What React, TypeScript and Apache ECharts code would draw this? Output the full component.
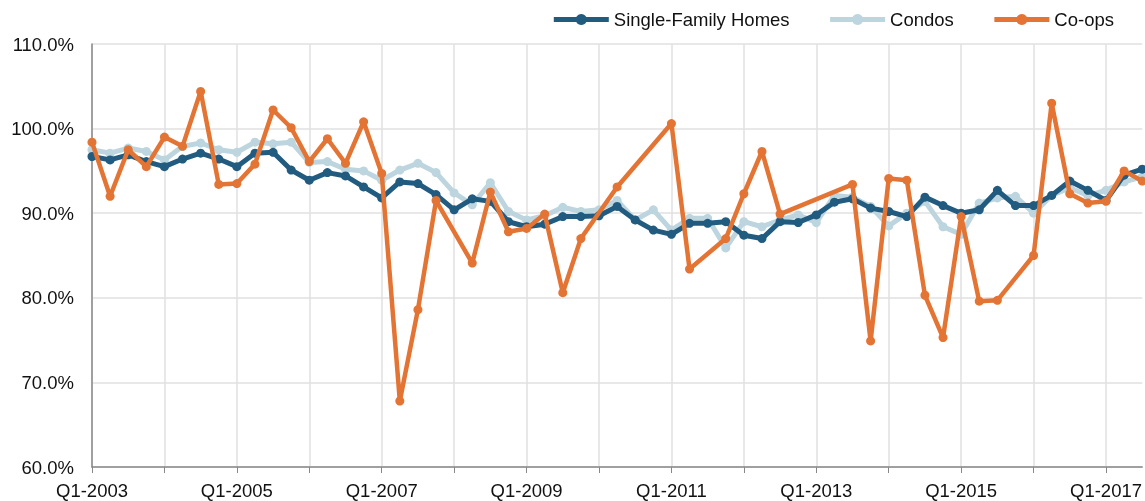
import React, { useEffect, useRef } from "react";
import * as echarts from "echarts";

const years = [2003, 2004, 2005, 2006, 2007, 2008, 2009, 2010, 2011, 2012, 2013, 2014, 2015, 2016, 2017];
const categories: string[] = [];
years.forEach((y) => {
  for (let q = 1; q <= 4; q++) categories.push(`Q${q}-${y}`);
});
const quarters = categories.slice(0, 59); // Q1-2003 .. Q3-2017

const singleFamily = [
  96.7, 96.3, 96.9, 96.1, 95.5, 96.4, 97.1, 96.4, 95.5, 97.1, 97.2, 95.1,
  93.9, 94.8, 94.4, 93.1, 91.8, 93.7, 93.5, 92.2, 90.4, 91.7, 91.4, 89.0,
  88.4, 88.7, 89.6, 89.6, 89.7, 90.8, 89.2, 88.0, 87.5, 88.8, 88.8, 89.0,
  87.4, 87.0, 89.0, 88.9, 89.8, 91.3, 91.7, 90.6, 90.2, 89.6, 91.9, 90.9,
  90.0, 90.4, 92.7, 90.9, 90.9, 92.1, 93.8, 92.7, 91.5, 94.5, 95.2,
];

const condos = [
  97.5, 97.1, 97.7, 97.3, 96.3, 97.9, 98.3, 97.5, 97.2, 98.4, 98.2, 98.4,
  96.0, 96.1, 95.2, 95.0, 93.9, 95.1, 95.9, 94.8, 92.4, 91.0, 93.6, 90.2,
  89.2, 89.7, 90.7, 90.2, 90.4, 91.5, 89.2, 90.4, 88.0, 89.4, 89.4, 85.9,
  89.0, 88.4, 89.2, 89.8, 88.9, 92.1, 91.9, 90.8, 88.5, 90.0, 91.4, 88.4,
  87.5, 91.2, 91.8, 92.0, 90.0, 92.1, 93.0, 92.1, 92.7, 93.7, 94.3,
];

const coops: (number | null)[] = [
  98.4, 92.0, 97.5, 95.5, 99.0, 97.9, 104.4, 93.4, 93.5, 95.8, 102.2, 100.1,
  96.1, 98.8, 95.9, 100.8, 94.7, 67.8, 78.6, 91.5, null, 84.1, 92.5, 87.8,
  88.2, 89.9, 80.6, 87.0, null, 93.1, null, null, 100.6, 83.4, null, 87.0,
  92.3, 97.3, 89.9, null, null, null, 93.4, 74.9, 94.1, 93.9, 80.3, 75.3,
  89.6, 79.6, 79.7, null, 85.0, 103.0, 92.3, 91.2, 91.4, 95.0, 93.8,
];

const yTicks = { min: 60, max: 110, interval: 10 };

const FONT = "'Liberation Sans', Arial, Helvetica, sans-serif";
const FS = 18.5;

export default function App() {
  const ref = useRef<HTMLDivElement>(null);
  useEffect(() => {
    if (!ref.current) return;
    const chart = echarts.init(ref.current, undefined, { renderer: "svg" });
    const mk = (name: string, data: (number | null)[], color: string, width: number, z: number) => ({
      name,
      type: "line",
      data,
      z,
      connectNulls: true,
      symbol: "circle",
      symbolSize: 9,
      showSymbol: true,
      itemStyle: { color },
      lineStyle: { color, width },
      emphasis: { disabled: true },
    });
    chart.setOption({
      animation: false,
      textStyle: { fontFamily: FONT },
      legend: {
        right: 26,
        top: 5,
        itemWidth: 55,
        itemHeight: 14,
        itemGap: 38,
        lineStyle: { width: 5 },
        textStyle: { fontSize: FS, color: "#111", fontFamily: FONT },
        data: ["Single-Family Homes", "Condos", "Co-ops"],
      },
      grid: { left: 92, right: 1, top: 44, bottom: 34, containLabel: false },
      xAxis: {
        type: "category",
        data: quarters,
        boundaryGap: false,
        axisLine: { lineStyle: { color: "#888", width: 1.5 } },
        axisTick: { show: true, interval: 3, length: 6, lineStyle: { color: "#888" } },
        axisLabel: { interval: 7, fontSize: FS, color: "#111", margin: 14, fontFamily: FONT },
        splitLine: { show: true, interval: 3, lineStyle: { color: "#e0e0e0", width: 1.5 } },
      },
      yAxis: {
        type: "value",
        min: yTicks.min,
        max: yTicks.max,
        interval: yTicks.interval,
        axisLine: { show: true, lineStyle: { color: "#888", width: 1.5 } },
        axisTick: { show: false },
        axisLabel: {
          fontSize: FS,
          color: "#111",
          margin: 18,
          fontFamily: FONT,
          formatter: (v: number) => `${v.toFixed(1)}%`,
        },
        splitLine: { show: true, lineStyle: { color: "#e0e0e0", width: 1.5 } },
      },
      series: [
        mk("Single-Family Homes", singleFamily, "#215b7f", 5, 3),
        mk("Condos", condos, "#bcd5de", 5, 2),
        mk("Co-ops", coops, "#e37434", 4.5, 4),
      ],
    });
    return () => chart.dispose();
  }, []);
  return (
    <div
      ref={ref}
      style={{ position: "fixed", left: 0, top: 0, width: 1145, height: 501 }}
    />
  );
}
